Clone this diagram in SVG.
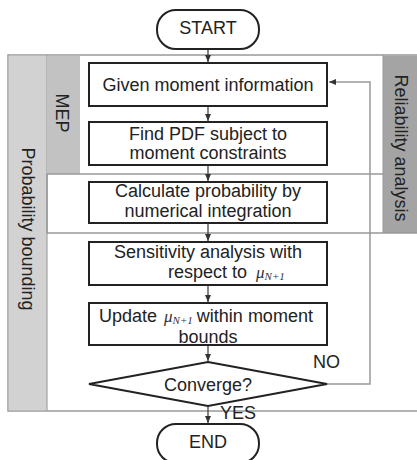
<svg xmlns="http://www.w3.org/2000/svg" width="417" height="460" viewBox="0 0 417 460">
<defs>
<marker id="ah" markerWidth="8" markerHeight="8" refX="7" refY="4" orient="auto" markerUnits="userSpaceOnUse">
<path d="M0,1 L7,4 L0,7 Z" fill="#333"/>
</marker>
<style>
.t{font-family:"Liberation Sans",Arial,sans-serif;font-size:18px;fill:#222}
.c{text-anchor:middle}
.box{fill:#fff;stroke:#222;stroke-width:2}
.frame{fill:none;stroke:#999;stroke-width:1.5}
.con{stroke:#444;stroke-width:1.3;fill:none}
.mu{font-family:"Liberation Serif","Times New Roman",serif;font-style:italic;fill:#333}
</style>
</defs>
<rect width="417" height="460" fill="#fff"/>
<g id="probability-bounding">
<rect x="8" y="55" width="420" height="356" fill="#fff" class="frame"/>
<rect x="8.75" y="55.75" width="38.5" height="354.5" fill="#d2d2d2"/>
<line x1="47" y1="55" x2="47" y2="411" stroke="#999" stroke-width="1"/>
<text class="t c" transform="translate(22,229) rotate(90)">Probability bounding</text>
</g>
<g id="reliability-analysis">
<rect x="383" y="55.75" width="34" height="177.25" fill="#a4a4a4"/>
<line x1="47" y1="233" x2="417" y2="233" stroke="#999" stroke-width="1.5"/>
<line x1="47" y1="174" x2="47" y2="233" stroke="#999" stroke-width="1.5"/>
<line x1="383" y1="55" x2="383" y2="233" stroke="#999" stroke-width="1"/>
<text class="t c" transform="translate(395,148) rotate(90)">Reliability analysis</text>
</g>
<g id="mep">
<rect x="47" y="55.75" width="33" height="118.25" fill="#c2c2c2"/>
<line x1="47" y1="174" x2="383" y2="174" stroke="#999" stroke-width="1.5"/>
<text class="t c" transform="translate(56,113) rotate(90)">MEP</text>
</g>
<g id="connectors">
<line class="con" x1="208" y1="49" x2="208" y2="62" marker-end="url(#ah)"/>
<line class="con" x1="208" y1="106" x2="208" y2="121" marker-end="url(#ah)"/>
<line class="con" x1="208" y1="165" x2="208" y2="181" marker-end="url(#ah)"/>
<line class="con" x1="208" y1="223" x2="208" y2="241" marker-end="url(#ah)"/>
<line class="con" x1="208" y1="285" x2="208" y2="302" marker-end="url(#ah)"/>
<line class="con" x1="208" y1="345" x2="208" y2="361" marker-end="url(#ah)"/>
<line class="con" x1="208" y1="406" x2="208" y2="423" marker-end="url(#ah)"/>
<polyline points="327,384 370,384 370,82 329,82" fill="none" stroke="#999" stroke-width="1.5" marker-end="url(#ah)"/>
<text class="t" x="313" y="368">NO</text>
<text class="t" x="220" y="419">YES</text>
</g>
<g id="start">
<rect x="157" y="10" width="102" height="39" rx="19" ry="19" class="box"/>
<text class="t c" x="208" y="34">START</text>
</g>
<g id="given">
<rect x="89" y="63" width="238" height="43" class="box"/>
<text class="t c" x="208" y="91">Given moment information</text>
</g>
<g id="find-pdf">
<rect x="89" y="122" width="238" height="43" class="box"/>
<text class="t c" x="208" y="140">Find PDF subject to</text>
<text class="t c" x="208" y="159">moment constraints</text>
</g>
<g id="calculate">
<rect x="89" y="182" width="238" height="41" class="box"/>
<text class="t c" x="208" y="197">Calculate probability by</text>
<text class="t c" x="208" y="217">numerical integration</text>
</g>
<g id="sensitivity">
<rect x="89" y="242" width="238" height="43" class="box"/>
<text class="t c" x="208" y="258">Sensitivity analysis with</text>
<text class="t" x="168" y="278">respect to <tspan class="mu" font-size="17" dx="4">μ</tspan><tspan class="mu" font-size="11" dy="2">N+1</tspan></text>
</g>
<g id="update">
<rect x="89" y="303" width="238" height="42" class="box"/>
<text class="t" x="99" y="322">Update <tspan class="mu" font-size="17" dx="2">μ</tspan><tspan class="mu" font-size="11" dy="2">N+1</tspan><tspan dy="-2" dx="4">within moment</tspan></text>
<text class="t c" x="208" y="343">bounds</text>
</g>
<g id="converge">
<polygon points="208,362 327,384 208,406 89,384" fill="#fff" stroke="#222" stroke-width="2"/>
<text class="t c" x="208" y="391">Converge?</text>
</g>
<g id="end">
<rect x="157" y="424" width="102" height="39" rx="19" ry="19" class="box"/>
<text class="t c" x="208" y="448">END</text>
</g>
</svg>
